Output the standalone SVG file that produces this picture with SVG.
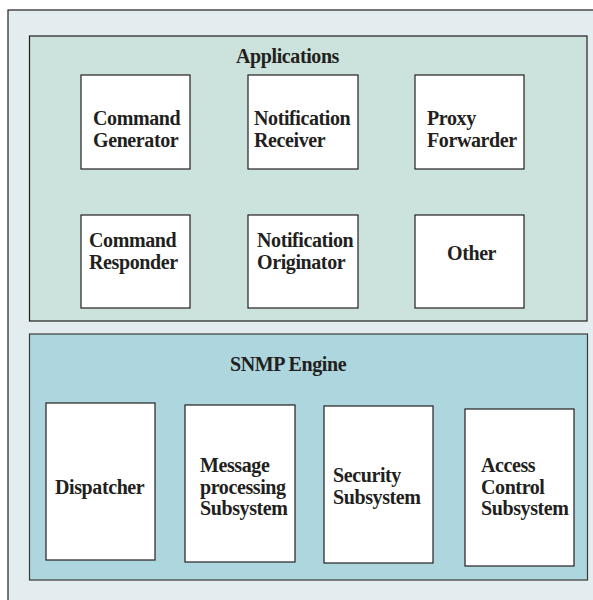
<svg xmlns="http://www.w3.org/2000/svg" width="593" height="600" viewBox="0 0 593 600">
  <style>
    .frame { fill: #e3ecee; stroke: #231f20; stroke-width: 1.2; }
    .apps { fill: #cbe3dc; stroke: #231f20; stroke-width: 1.2; }
    .engine { fill: #aed6de; stroke: #3a3a3a; stroke-width: 1.2; }
    .box { fill: #ffffff; stroke: #231f20; stroke-width: 1.2; }
    text { font-family: "Liberation Serif", "Times New Roman", serif; font-weight: bold; font-size: 20px; letter-spacing: -0.4px; fill: #231f20; }
  </style>

  <!-- outer frame (runs off the right and bottom edges) -->
  <rect class="frame" x="8" y="10" width="600" height="600"/>

  <!-- Applications layer -->
  <g id="applications">
    <rect class="apps" x="29.5" y="36" width="557.5" height="285"/>
    <text x="236" y="63">Applications</text>
  </g>

  <g id="command-generator">
    <rect class="box" x="81" y="75" width="109" height="94"/>
    <text x="93" y="125">Command</text>
    <text x="93" y="147">Generator</text>
  </g>
  <g id="notification-receiver">
    <rect class="box" x="248" y="75" width="110" height="94"/>
    <text x="254" y="125">Notification</text>
    <text x="254" y="147">Receiver</text>
  </g>
  <g id="proxy-forwarder">
    <rect class="box" x="415" y="75" width="109" height="94"/>
    <text x="427" y="125">Proxy</text>
    <text x="427" y="147">Forwarder</text>
  </g>
  <g id="command-responder">
    <rect class="box" x="81" y="215" width="109" height="93"/>
    <text x="89" y="247">Command</text>
    <text x="89" y="269">Responder</text>
  </g>
  <g id="notification-originator">
    <rect class="box" x="248" y="215" width="110" height="93"/>
    <text x="257" y="247">Notification</text>
    <text x="257" y="269">Originator</text>
  </g>
  <g id="other">
    <rect class="box" x="415" y="215" width="109" height="93"/>
    <text x="447" y="260">Other</text>
  </g>

  <!-- SNMP engine layer -->
  <g id="snmp-engine">
    <rect class="engine" x="29.5" y="334" width="558" height="246"/>
    <text x="230" y="371">SNMP Engine</text>
  </g>

  <g id="dispatcher">
    <rect class="box" x="46" y="403" width="109" height="157"/>
    <text x="55" y="494">Dispatcher</text>
  </g>
  <g id="message-processing">
    <rect class="box" x="185" y="405" width="110" height="157"/>
    <text x="200" y="472">Message</text>
    <text x="200" y="493.5">processing</text>
    <text x="200" y="515">Subsystem</text>
  </g>
  <g id="security">
    <rect class="box" x="324" y="406" width="109" height="157"/>
    <text x="333" y="482">Security</text>
    <text x="333" y="504">Subsystem</text>
  </g>
  <g id="access-control">
    <rect class="box" x="465" y="409" width="109" height="157"/>
    <text x="481" y="472">Access</text>
    <text x="481" y="493.5">Control</text>
    <text x="481" y="515">Subsystem</text>
  </g>

  <!-- no connectors are drawn between the layers -->
  <g id="connectors"/>
</svg>
